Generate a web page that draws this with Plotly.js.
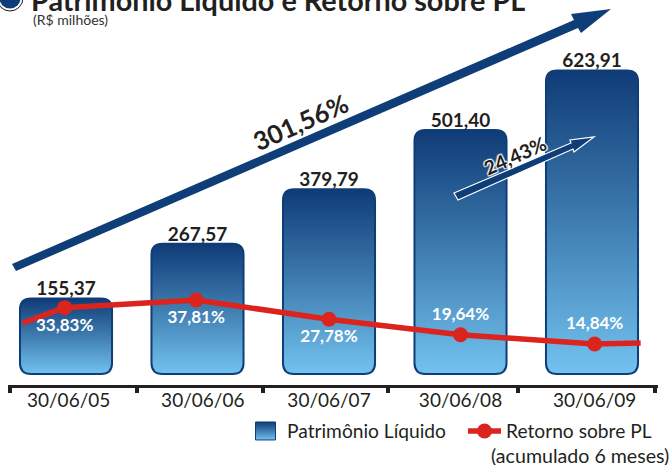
<!DOCTYPE html>
<html><head><meta charset="utf-8">
<script src="https://cdn.plot.ly/plotly-3.0.1.min.js"></script>
<style>html,body{margin:0;padding:0;background:#fff}#c{width:669px;height:465px}</style></head>
<body><div id="c"></div>
<script>
const barPositions = [0, 1, 2, 3, 4];
const patrimonio = [155.37, 267.57, 379.79, 501.40, 623.91];
const retornoX = [-0.01, 0.99, 2, 3, 4.02];
const retorno = [33.83, 37.81, 27.78, 19.64, 14.84];
const tailX = [-0.33, -0.01, null, 4.02, 4.37];
const tailY = [25.8, 33.83, null, 14.84, 15.4];
const dateLabels = ['30/06/05', '30/06/06', '30/06/07', '30/06/08', '30/06/09'];
const labelPositions = [0.02, 1.04, 2, 3, 4.02];
const tickPositions = [-0.426, 0.54, 1.5, 2.45, 3.44, 4.48];
const retornoLabelPos = ['bottom center', 'bottom center', 'bottom center', 'top center', 'top center'];

const W = 669, H = 465, L = 8, R = 658, B = 385;
const px = p => (p - L) / (R - L);
const py = p => (B - p) / B;
const poly = pts => 'M' + pts.map(p => px(p[0]) + ',' + py(p[1])).join('L') + 'Z';
const NAVY = '#0f3d78', INK = '#231f20', RED = '#dc241f', FONT = 'Lato, Carlito, Calibri, sans-serif';

const data = [
  {type: 'bar', name: 'Patrimônio Líquido', x: barPositions, y: patrimonio, width: 0.7,
   marker: {color: '#3a75a8', line: {color: NAVY, width: 2}},
   texttemplate: '%{y:.2f}', textposition: 'outside', cliponaxis: false,
   textfont: {family: FONT, size: 19, weight: 700, color: INK}, hoverinfo: 'skip'},
  {type: 'scatter', mode: 'lines', x: tailX, y: tailY, yaxis: 'y2', showlegend: false,
   line: {color: RED, width: 5.5}, hoverinfo: 'skip', cliponaxis: false},
  {type: 'scatter', mode: 'lines+markers+text', name: 'Retorno sobre PL', x: retornoX, y: retorno, yaxis: 'y2',
   line: {color: RED, width: 5.5}, marker: {color: RED, size: 15},
   texttemplate: '%{y:.2f}%', textposition: retornoLabelPos, cliponaxis: false,
   textfont: {family: FONT, size: 17, weight: 700, color: '#ffffff'}, hoverinfo: 'skip'}
];

const layout = {
  width: W, height: H, autosize: false, showlegend: true, separators: ', ',
  paper_bgcolor: '#fff', plot_bgcolor: '#fff', font: {family: FONT, color: INK},
  margin: {l: L, r: W - R, t: 0, b: H - B, pad: 0, autoexpand: false},
  title: {text: '<b>Patrimônio Líquido e Retorno sobre PL</b>', x: 31 / W, xanchor: 'left',
          xref: 'container', yref: 'container', y: 0.998, yanchor: 'middle', automargin: false,
          font: {family: FONT, size: 28.8, color: INK}},
  xaxis: {range: [(L - 66) / 131.5, (R - 66) / 131.5], tickmode: 'array', tickvals: labelPositions, ticktext: dateLabels,
          ticks: '', showgrid: false, zeroline: false, showline: true, linecolor: INK, linewidth: 3,
          tickfont: {family: FONT, size: 19, color: INK}, ticklabelstandoff: -4,
          minor: {tickmode: 'array', tickvals: tickPositions, ticks: 'outside', ticklen: 5, tickwidth: 4, tickcolor: INK, showgrid: false}},
  yaxis: {visible: false, range: [-22.6, 768.8], fixedrange: true},
  yaxis2: {visible: false, overlaying: 'y', range: [-6.58, 194.5], fixedrange: true},
  legend: {orientation: 'h', xref: 'paper', yref: 'paper', x: px(244), y: py(431), yanchor: 'middle', xanchor: 'left',
           itemwidth: 33, font: {family: FONT, size: 19.2, color: INK}, bgcolor: 'rgba(0,0,0,0)', traceorder: 'normal', entrywidth: 171},
  shapes: [
    {type: 'circle', xref: 'paper', yref: 'paper', x0: px(-3), x1: px(23), y0: py(11), y1: py(-15),
     fillcolor: '#ffffff', line: {color: '#1a1a1a', width: 1}, layer: 'above'},
    {type: 'circle', xref: 'paper', yref: 'paper', x0: px(-0.5), x1: px(20.5), y0: py(8.5), y1: py(-12.5),
     fillcolor: NAVY, line: {width: 0}, layer: 'above'},
    {type: 'path', xref: 'paper', yref: 'paper', layer: 'above', fillcolor: NAVY, line: {width: 0},
     path: poly([[12, 264], [574, 20], [571, 14], [611, 9], [581, 33], [578, 28], [16, 271]])},
    {type: 'path', xref: 'paper', yref: 'paper', layer: 'above', fillcolor: NAVY, line: {color: '#ffffff', width: 1.2},
     path: poly([[454, 193], [571, 143], [570, 140], [594, 137], [574, 152], [573, 149], [458, 200]])}
  ],
  annotations: [
    {xref: 'paper', yref: 'paper', x: px(31), y: py(19), xanchor: 'left', yanchor: 'middle', showarrow: false,
     text: '(R$ milhões)', font: {family: FONT, size: 14, color: '#333333'}},
    {xref: 'paper', yref: 'paper', x: px(300), y: py(122), xanchor: 'center', yanchor: 'middle', textangle: -24, showarrow: false,
     text: '<b>301,56%</b>', font: {family: FONT, size: 25.5, color: INK}},
    {xref: 'paper', yref: 'paper', x: px(515), y: py(155), xanchor: 'center', yanchor: 'middle', textangle: -24, showarrow: false,
     text: '<b>24,43%</b>', font: {family: FONT, size: 19.5, color: INK,
       shadow: '1px 1px 1px #fff, -1px -1px 1px #fff, 1px -1px 1px #fff, -1px 1px 1px #fff'}},
    {xref: 'paper', yref: 'paper', x: px(489), y: py(455), xanchor: 'left', yanchor: 'middle', showarrow: false,
     text: '(acumulado 6 meses)', font: {family: FONT, size: 19.6, color: INK}}
  ]
};

function roundRect(b, r) {
  const x = b.x, y = b.y, w = b.width, h = b.height;
  return `M${x + r},${y}H${x + w - r}Q${x + w},${y} ${x + w},${y + r}V${y + h - r}Q${x + w},${y + h} ${x + w - r},${y + h}` +
         `H${x + r}Q${x},${y + h} ${x},${y + h - r}V${y + r}Q${x},${y} ${x + r},${y}Z`;
}
function finish(gd) {
  const svg = gd.querySelector('svg.main-svg');
  const NS = 'http://www.w3.org/2000/svg';
  const defs = svg.querySelector('defs') || svg.insertBefore(document.createElementNS(NS, 'defs'), svg.firstChild);
  const grad = document.createElementNS(NS, 'linearGradient');
  grad.setAttribute('id', 'barGrad');
  grad.setAttribute('x1', '0'); grad.setAttribute('y1', '0'); grad.setAttribute('x2', '0'); grad.setAttribute('y2', '1');
  [['0', '#0f3b77'], ['0.5', '#3f7db0'], ['1', '#72c2ef']].forEach(s => {
    const st = document.createElementNS(NS, 'stop');
    st.setAttribute('offset', s[0]); st.setAttribute('stop-color', s[1]); grad.appendChild(st);
  });
  defs.appendChild(grad);
  gd.querySelectorAll('.barlayer .point path').forEach(p => {
    p.setAttribute('d', roundRect(p.getBBox(), 11));
    p.style.setProperty('fill', 'url(#barGrad)');
  });
  gd.querySelectorAll('.barlayer .bartext').forEach(t => {
    t.setAttribute('transform', 'translate(0,4) ' + (t.getAttribute('transform') || ''));
  });
  const sw = gd.querySelector('.legend .traces .legendpoints path');
  if (sw) {
    sw.setAttribute('d', 'M-10,-9H10V9H-10Z');
    sw.style.setProperty('fill', 'url(#barGrad)');
    sw.style.setProperty('stroke', NAVY);
    sw.style.setProperty('stroke-width', '1px');
  }
}
const gd = document.getElementById('c');
Plotly.newPlot(gd, data, layout, {staticPlot: true, displayModeBar: false}).then(finish);
</script></body></html>
